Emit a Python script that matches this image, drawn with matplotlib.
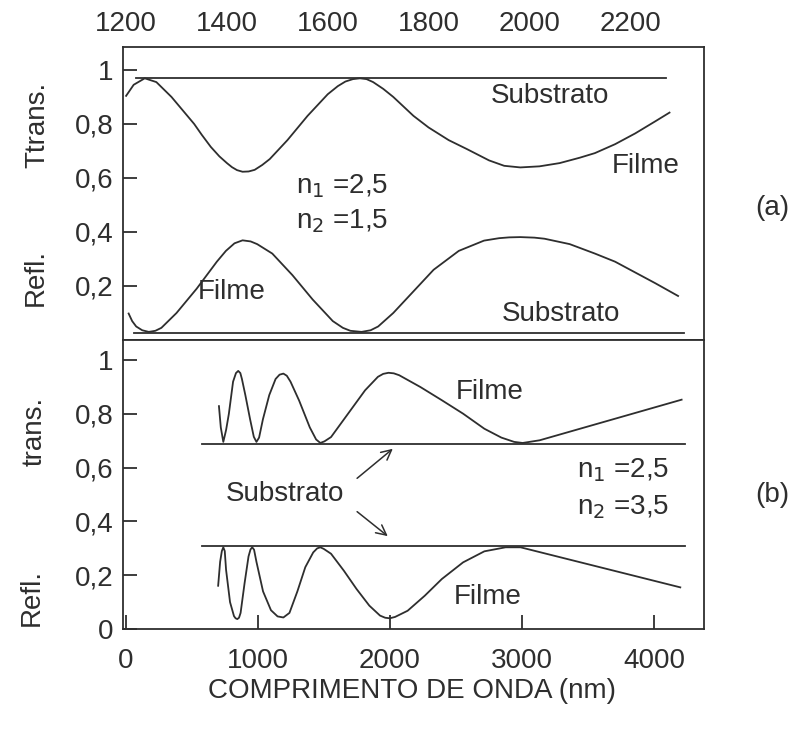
import numpy as np
import matplotlib
matplotlib.use("Agg")
import matplotlib.pyplot as plt

# panel (a): n1=2.5, n2=1.5, top axis wavelength (nm)
ta_nm = [1200, 1215, 1237, 1260, 1290, 1317, 1335, 1350, 1368, 1385, 1400, 1410, 1420, 1431,
         1443, 1455, 1470, 1485, 1520, 1560, 1600, 1620, 1635, 1650, 1664, 1677, 1690, 1710,
         1730, 1770, 1800, 1840, 1876, 1920, 1950, 1982, 2020, 2060, 2100, 2130, 2170, 2210,
         2250, 2278]
ta_val = [0.904, 0.945, 0.969, 0.955, 0.90, 0.84, 0.80, 0.76, 0.715, 0.68, 0.655, 0.64, 0.629,
          0.623, 0.624, 0.63, 0.648, 0.67, 0.74, 0.83, 0.91, 0.94, 0.957, 0.966, 0.969, 0.966,
          0.955, 0.93, 0.90, 0.83, 0.787, 0.74, 0.707, 0.665, 0.645, 0.639, 0.643, 0.655,
          0.675, 0.692, 0.725, 0.765, 0.81, 0.842]
ra_nm = [1205, 1212, 1220, 1232, 1245, 1258, 1270, 1300, 1340, 1380, 1398, 1415, 1431, 1447,
         1460, 1490, 1530, 1570, 1610, 1630, 1645, 1667, 1685, 1700, 1730, 1770, 1810, 1860,
         1910, 1940, 1960, 1982, 2010, 2030, 2080, 2130, 2170, 2210, 2250, 2295]
ra_val = [0.098, 0.07, 0.05, 0.036, 0.030, 0.034, 0.045, 0.10, 0.19, 0.29, 0.33, 0.358, 0.369,
          0.365, 0.355, 0.32, 0.24, 0.15, 0.07, 0.045, 0.034, 0.030, 0.036, 0.05, 0.10, 0.18,
          0.26, 0.33, 0.368, 0.377, 0.38, 0.381, 0.379, 0.375, 0.355, 0.32, 0.29, 0.25, 0.21,
          0.163]
sub_a_t = ([1219, 2272], 0.969)
sub_a_r = ([1215, 2306], 0.027)

# panel (b): n1=2.5, n2=3.5, bottom axis wavelength (nm)
tb_nm = [706, 720, 739, 760, 781, 813, 835, 852, 868, 880, 906, 942, 970, 990, 1010, 1039, 1087,
         1135, 1165, 1194, 1220, 1248, 1313, 1394, 1442, 1474, 1505, 1555, 1684, 1813, 1910,
         1950, 1990, 2030, 2071, 2232, 2394, 2555, 2716, 2845, 2942, 3006, 3135, 4210]
tb_val = [0.829, 0.75, 0.696, 0.74, 0.80, 0.92, 0.952, 0.960, 0.952, 0.93, 0.87, 0.78, 0.715,
          0.696, 0.712, 0.78, 0.87, 0.93, 0.946, 0.950, 0.942, 0.92, 0.85, 0.75, 0.705, 0.692,
          0.698, 0.714, 0.801, 0.888, 0.938, 0.949, 0.953, 0.951, 0.944, 0.90, 0.851, 0.801,
          0.745, 0.712, 0.696, 0.692, 0.702, 0.853]
rb_nm = [700, 715, 728, 739, 750, 760, 790, 820, 832, 845, 858, 870, 900, 930, 945, 958, 972,
         990, 1040, 1100, 1150, 1194, 1240, 1300, 1360, 1420, 1450, 1474, 1500, 1555, 1652,
         1748, 1845, 1926, 1965, 2000, 2040, 2135, 2265, 2394, 2555, 2716, 2877, 2990, 4200]
rb_val = [0.161, 0.25, 0.29, 0.304, 0.29, 0.22, 0.10, 0.048, 0.040, 0.037, 0.042, 0.06, 0.17,
          0.27, 0.296, 0.304, 0.295, 0.25, 0.14, 0.07, 0.047, 0.043, 0.06, 0.14, 0.23, 0.285,
          0.300, 0.304, 0.298, 0.28, 0.217, 0.149, 0.087, 0.05, 0.042, 0.040, 0.045, 0.068,
          0.124, 0.186, 0.248, 0.289, 0.304, 0.304, 0.155]
sub_b_t = ([581, 4232], 0.689)
sub_b_r = ([581, 4232], 0.307)

top_ticks = [1200, 1400, 1600, 1800, 2000, 2200]
top_marks = [1400, 1800, 2200]
bot_ticks = [0, 1000, 2000, 3000, 4000]
ya_ticks = [0.2, 0.4, 0.6, 0.8, 1.0]
ya_labels = ["0,2", "0,4", "0,6", "0,8", "1"]
yb_ticks = [0, 0.2, 0.4, 0.6, 0.8, 1.0]
yb_labels = ["0", "0,2", "0,4", "0,6", "0,8", "1"]

ink = "#2e2e2e"
plt.rcParams["font.family"] = ["Liberation Sans", "DejaVu Sans"]
plt.rcParams["text.color"] = ink
lw = 1.3
fs = 20

fig = plt.figure(figsize=(7.89, 7.34), dpi=100)
ax_a = fig.add_axes([0.156, 0.5368, 0.736, 0.3992])
ax_b = fig.add_axes([0.156, 0.143, 0.736, 0.3938])

for ax in (ax_a, ax_b):
    for s in ax.spines.values():
        s.set_color(ink)
        s.set_linewidth(1.3)
    ax.tick_params(colors=ink, labelsize=fs, direction="in", length=10, width=1.3)

# --- panel (a)
ax_a.plot(ta_nm, ta_val, color=ink, lw=lw)
ax_a.plot(ra_nm, ra_val, color=ink, lw=lw)
ax_a.plot(sub_a_t[0], [sub_a_t[1]] * 2, color=ink, lw=lw)
ax_a.plot(sub_a_r[0], [sub_a_r[1]] * 2, color=ink, lw=lw)
ax_a.set_xlim(1194, 2346)
ax_a.set_ylim(0, 1.085)
ax_a.xaxis.tick_top()
ax_a.set_xticks(top_ticks)
ax_a.set_xticks(top_marks, minor=True)
ax_a.tick_params(axis="x", which="major", length=0, pad=7)
ax_a.tick_params(axis="x", which="minor", direction="in", length=10, width=1.3, colors=ink)
ax_a.set_yticks(ya_ticks)
ax_a.set_yticklabels(ya_labels)
ax_a.tick_params(axis="y", pad=7)

ax_a.text(2041, 0.905, "Substrato", fontsize=fs, ha="center", va="center")
ax_a.text(2230, 0.645, "Filme", fontsize=fs, ha="center", va="center")
ax_a.text(1537, 0.571, r"n$_1$ =2,5", fontsize=fs, ha="left", va="center")
ax_a.text(1537, 0.442, r"n$_2$ =1,5", fontsize=fs, ha="left", va="center")
ax_a.text(1342, 0.178, "Filme", fontsize=fs, ha="left", va="center")
ax_a.text(2063, 0.098, "Substrato", fontsize=fs, ha="center", va="center")

# --- panel (b)
ax_b.plot(tb_nm, tb_val, color=ink, lw=lw)
ax_b.plot(rb_nm, rb_val, color=ink, lw=lw)
ax_b.plot(sub_b_t[0], [sub_b_t[1]] * 2, color=ink, lw=lw)
ax_b.plot(sub_b_r[0], [sub_b_r[1]] * 2, color=ink, lw=lw)
ax_b.set_xlim(-20, 4378)
ax_b.set_ylim(0, 1.075)
ax_b.set_xticks(bot_ticks)
ax_b.tick_params(axis="x", pad=14)
ax_b.set_yticks(yb_ticks)
ax_b.set_yticklabels(yb_labels)
ax_b.tick_params(axis="y", pad=7)

ax_b.text(2760, 0.882, "Filme", fontsize=fs, ha="center", va="center")
ax_b.text(3420, 0.590, r"n$_1$ =2,5", fontsize=fs, ha="left", va="center")
ax_b.text(3420, 0.453, r"n$_2$ =3,5", fontsize=fs, ha="left", va="center")
ax_b.text(1203, 0.503, "Substrato", fontsize=fs, ha="center", va="center")
ax_b.text(2745, 0.118, "Filme", fontsize=fs, ha="center", va="center")
arrow = dict(arrowstyle="->", color=ink, lw=1.1, mutation_scale=18)
ax_b.annotate("", xy=(2039, 0.677), xytext=(1736, 0.554), arrowprops=arrow)
ax_b.annotate("", xy=(2001, 0.339), xytext=(1736, 0.443), arrowprops=arrow)

# labels outside the axes
fig.text(0.048, 1 - 125 / 734, "Ttrans.", rotation=90, fontsize=fs, ha="center", va="center")
fig.text(0.045, 1 - 278 / 734, "Refl.", rotation=90, fontsize=fs, ha="center", va="center")
fig.text(0.044, 1 - 431 / 734, "trans.", rotation=90, fontsize=fs, ha="center", va="center")
fig.text(0.040, 1 - 597 / 734, "Refl.", rotation=90, fontsize=fs, ha="center", va="center")
fig.text(772 / 789, 1 - 208 / 734, "(a)", fontsize=fs, ha="center", va="center")
fig.text(772 / 789, 1 - 495 / 734, "(b)", fontsize=fs, ha="center", va="center")
fig.text(412 / 789, 1 - 691 / 734, "COMPRIMENTO DE ONDA (nm)", fontsize=fs, ha="center", va="center")

fig.savefig("out.png", dpi=100)
